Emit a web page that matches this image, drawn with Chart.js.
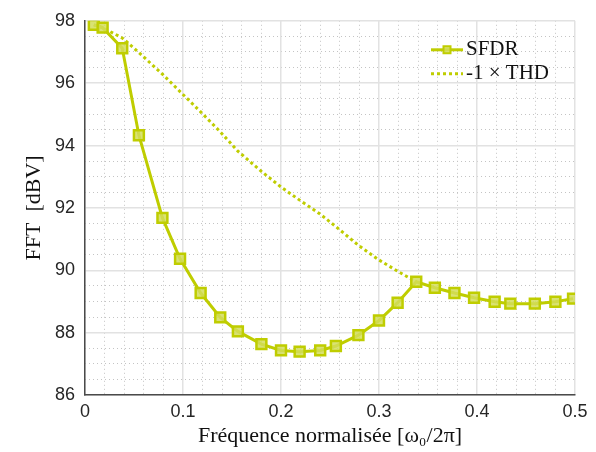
<!DOCTYPE html>
<html>
<head>
<meta charset="utf-8">
<script src="https://cdn.jsdelivr.net/npm/chart.js@4.4.0/dist/chart.umd.min.js"></script>
<style>
html,body{margin:0;padding:0;background:#fff;}
#wrap{width:596px;height:452px;position:relative;}
</style>
</head>
<body>
<div id="wrap"><canvas id="c" width="596" height="452"></canvas></div>
<script>
// ---- data ----
const freqSFDR = [0.009, 0.018, 0.038, 0.055, 0.079, 0.097, 0.118, 0.138, 0.156, 0.180, 0.200, 0.219, 0.240, 0.256, 0.279, 0.300, 0.319, 0.338, 0.357, 0.377, 0.397, 0.418, 0.434, 0.459, 0.480, 0.498];
const sfdr     = [97.87, 97.78, 97.12, 94.33, 91.68, 90.37, 89.27, 88.49, 88.04, 87.63, 87.43, 87.39, 87.43, 87.57, 87.92, 88.39, 88.96, 89.63, 89.44, 89.27, 89.12, 88.99, 88.93, 88.93, 88.99, 89.09];
const freqTHD  = [0.009, 0.018, 0.038, 0.055, 0.079, 0.097, 0.118, 0.138, 0.156, 0.180, 0.200, 0.219, 0.240, 0.256, 0.279, 0.300, 0.319, 0.338];
const negTHD   = [97.87, 97.78, 97.45, 96.98, 96.29, 95.73, 95.08, 94.44, 93.82, 93.17, 92.67, 92.25, 91.80, 91.40, 90.80, 90.33, 89.97, 89.63];
const xTicksMajor = [0, 0.1, 0.2, 0.3, 0.4, 0.5];
const yTicksMajor = [86, 88, 90, 92, 94, 96, 98];
const labels = { series: ['SFDR', '-1 \u00d7 THD'], x: 'Fr\u00e9quence normalis\u00e9e [\u03c9\u2080/2\u03c0]', y: 'FFT  [dBV]' };

const lime = '#bfcd00';
const tickFont = { family: '"Liberation Sans", Arial, sans-serif', size: 18 };
const titleFont = { family: '"Liberation Serif", "Times New Roman", serif', size: 22 };
const legendFont = { family: '"Liberation Serif", "Times New Roman", serif', size: 21 };

function pts(xs, ys){ return xs.map((x,i)=>({x:x, y:ys[i]})); }
function isMajor(v, list){ return list.some(t => Math.abs(t - v) < 1e-6); }

const legendPlugin = {
  id: 'insideLegend',
  afterDraw(chart){
    const ctx = chart.ctx, ca = chart.chartArea;
    const x0 = ca.left + 346, y0 = ca.top + 29, dy = 24;
    ctx.save();
    chart.data.datasets.forEach((ds, i) => {
      const y = y0 + i*dy;
      ctx.strokeStyle = ds.borderColor;
      ctx.lineWidth = ds.borderWidth;
      ctx.setLineDash(ds.borderDash || []);
      ctx.beginPath(); ctx.moveTo(x0, y); ctx.lineTo(x0+32, y); ctx.stroke();
      ctx.setLineDash([]);
      if (ds.pointRadius > 0) {
        ctx.fillStyle = ds.pointBackgroundColor;
        ctx.lineWidth = 2;
        ctx.strokeStyle = ds.borderColor;
        ctx.beginPath(); ctx.rect(x0+16-3.5, y-3.5, 7, 7); ctx.fill(); ctx.stroke();
      }
      ctx.fillStyle = '#111';
      ctx.font = legendFont.size + 'px ' + legendFont.family;
      ctx.textBaseline = 'middle';
      ctx.textAlign = 'left';
      ctx.fillText(ds.label, x0+35, y);
    });
    ctx.restore();
  }
};

new Chart(document.getElementById('c'), {
  type: 'scatter',
  data: {
    datasets: [
      { label: labels.series[0], data: pts(freqSFDR, sfdr), showLine: true, borderColor: lime, borderWidth: 3,
        pointStyle: 'rect', pointRadius: 7, pointHoverRadius: 7, pointBorderWidth: 2.5,
        pointBackgroundColor: 'rgba(210,221,90,0.85)', pointBorderColor: lime, order: 1 },
      { label: labels.series[1], data: pts(freqTHD, negTHD), showLine: true, borderColor: lime, borderWidth: 3,
        borderDash: [3,3], pointRadius: 0, pointHoverRadius: 0, pointBackgroundColor: lime, order: 2 }
    ]
  },
  options: {
    responsive: false,
    animation: false,
    layout: { padding: { top: 15, right: 21, left: 0, bottom: 0 } },
    plugins: { legend: { display: false }, tooltip: { enabled: false } },
    scales: {
      xMinor: {
        type: 'linear', position: 'bottom', min: 0, max: 0.5,
        ticks: { display: false, stepSize: 0.02 },
        grid: { drawTicks: false, lineWidth: 1,
          color: c => isMajor(c.tick.value, xTicksMajor) ? 'rgba(0,0,0,0)' : '#c4c4c4' },
        border: { display: false, dash: [1,3] },
        afterFit: s => { s.height = 0; }
      },
      yMinor: {
        type: 'linear', position: 'left', min: 86, max: 98,
        ticks: { display: false, stepSize: 0.5 },
        grid: { drawTicks: false, lineWidth: 1,
          color: c => isMajor(c.tick.value, yTicksMajor) ? 'rgba(0,0,0,0)' : '#c4c4c4' },
        border: { display: false, dash: [1,3] },
        afterFit: s => { s.width = 0; }
      },
      x: {
        type: 'linear', position: 'bottom', min: 0, max: 0.5,
        afterBuildTicks: s => { s.ticks = xTicksMajor.map(v => ({value: v})); },
        ticks: { font: tickFont, color: '#262626', padding: 6, maxRotation: 0,
          callback: v => String(v) },
        grid: { color: '#e2e2e2', lineWidth: 1.5, drawTicks: false },
        border: { color: '#4a4a4a', width: 1.5 },
        title: { display: true, text: labels.x, font: titleFont, color: '#111', padding: { top: 0, bottom: 3 } },
        afterFit: s => { s.height = 57; }
      },
      y: {
        type: 'linear', position: 'left', min: 86, max: 98,
        afterBuildTicks: s => { s.ticks = yTicksMajor.map(v => ({value: v})); },
        ticks: { font: tickFont, color: '#262626', padding: 10, callback: v => String(v) },
        grid: { color: '#e2e2e2', lineWidth: 1.5, drawTicks: false },
        border: { color: '#4a4a4a', width: 1.5 },
        title: { display: true, text: labels.y, font: titleFont, color: '#111', padding: { top: 21, bottom: 4 } },
        afterFit: s => { s.width = 85; }
      }
    }
  },
  plugins: [legendPlugin]
});
</script>
</body>
</html>
